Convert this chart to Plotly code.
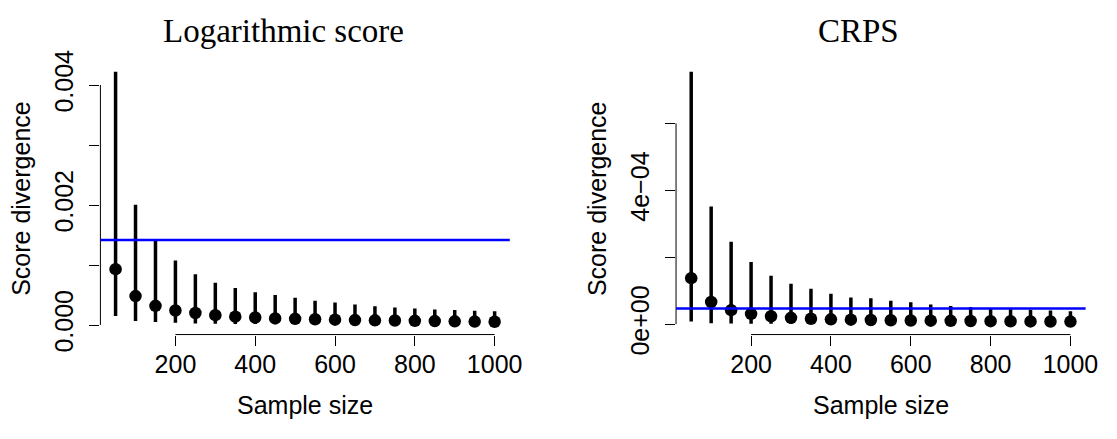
import plotly.graph_objects as go

# ---------------- data ----------------
sample_sizes = [50, 100, 150, 200, 250, 300, 350, 400, 450, 500,
                550, 600, 650, 700, 750, 800, 850, 900, 950, 1000]

log_mid = [0.000931, 0.000483, 0.000320, 0.000242, 0.000200, 0.000165, 0.000139,
           0.000126, 0.000110, 0.000103, 0.000096, 0.000090, 0.000082, 0.000078,
           0.000075, 0.000070, 0.000066, 0.000062, 0.000058, 0.000055]
log_hi = [0.004221, 0.002003, 0.001416, 0.001076, 0.000845, 0.000706, 0.000618,
          0.000545, 0.000499, 0.000453, 0.000406, 0.000375, 0.000344, 0.000313,
          0.000291, 0.000276, 0.000260, 0.000251, 0.000240, 0.000228]
log_lo = [0.000150, 0.000066, 0.000051, 0.000036, 0.000025, 0.000021, 0.000019,
          0.000017, 0.000016, 0.000015, 0.000014, 0.000014, 0.000013, 0.000013,
          0.000012, 0.000012, 0.000012, 0.000011, 0.000011, 0.000011]
log_ref = 0.001416

crps_mid = [1.374e-4, 0.662e-4, 0.420e-4, 0.310e-4, 0.238e-4, 0.190e-4, 0.163e-4,
            0.144e-4, 0.136e-4, 0.125e-4, 0.118e-4, 0.110e-4, 0.105e-4, 0.100e-4,
            0.095e-4, 0.090e-4, 0.087e-4, 0.083e-4, 0.080e-4, 0.077e-4]
crps_hi = [7.54e-4, 3.52e-4, 2.46e-4, 1.86e-4, 1.446e-4, 1.208e-4, 1.058e-4,
           0.911e-4, 0.800e-4, 0.773e-4, 0.700e-4, 0.654e-4, 0.587e-4, 0.543e-4,
           0.515e-4, 0.480e-4, 0.450e-4, 0.430e-4, 0.410e-4, 0.390e-4]
crps_lo = [0.080e-4, 0.030e-4, 0.020e-4, 0.015e-4, 0.012e-4, 0.010e-4, 0.010e-4,
           0.009e-4, 0.009e-4, 0.008e-4, 0.008e-4, 0.008e-4, 0.007e-4, 0.007e-4,
           0.007e-4, 0.007e-4, 0.006e-4, 0.006e-4, 0.006e-4, 0.006e-4]
crps_ref = 0.468e-4

x_ticks = [200, 400, 600, 800, 1000]
log_yticks = [0, 0.001, 0.002, 0.003, 0.004]
log_ytext = ["0.000", "", "0.002", "", "0.004"]
crps_yticks = [0, 2e-4, 4e-4, 6e-4]
crps_ytext = ["0e+00", "", "4e\u221204", ""]

titles = ["Logarithmic score", "CRPS"]
x_title = "Sample size"
y_title = "Score divergence"

# ---------------- layout geometry ----------------
W, H = 1117, 439
SANS = "Liberation Sans, Arial, sans-serif"
SERIF = "Liberation Serif, Times New Roman, serif"
FS = 25

def px_x(p):
    return p / W

def px_y(p):
    return 1 - p / H

x_range = [12, 1038]
ydom = [px_y(349), px_y(54.5)]
xdom1 = [px_x(101.6), px_x(515.8)]
xdom2 = [px_x(684.0), px_x(1098.4)]
yr1 = [-0.000159, 0.0043926]
yr2 = [-0.31e-4, 7.848e-4]

fig = go.Figure()

def add_panel(xa, ya, mid, hi, lo):
    fig.add_trace(go.Scatter(
        x=sample_sizes, y=mid, mode="markers",
        marker=dict(color="black", size=12.5, line=dict(width=0)),
        error_y=dict(type="data", symmetric=False,
                     array=[h - m for h, m in zip(hi, mid)],
                     arrayminus=[m - l for m, l in zip(mid, lo)],
                     color="black", thickness=3.5, width=0),
        xaxis=xa, yaxis=ya, showlegend=False, hoverinfo="skip"))

add_panel("x", "y", log_mid, log_hi, log_lo)
add_panel("x2", "y2", crps_mid, crps_hi, crps_lo)

axis_common = dict(showgrid=False, zeroline=False, showline=False,
                   ticks="outside", ticklen=10, tickwidth=1, tickcolor="black",
                   tickfont=dict(family=SANS, size=FS, color="black"))

fig.update_layout(
    width=W, height=H,
    margin=dict(l=0, r=0, t=0, b=0),
    paper_bgcolor="white", plot_bgcolor="white",
    xaxis=dict(domain=xdom1, range=x_range, tickvals=x_ticks, anchor="y",
               ticklabelstandoff=-3, **axis_common),
    yaxis=dict(domain=ydom, range=yr1, tickvals=log_yticks, ticktext=log_ytext,
               tickangle=-90, anchor="x", ticklabelstandoff=6, **axis_common),
    xaxis2=dict(domain=xdom2, range=x_range, tickvals=x_ticks, anchor="y2",
                ticklabelstandoff=-3, **axis_common),
    yaxis2=dict(domain=ydom, range=yr2, tickvals=crps_yticks, ticktext=crps_ytext,
                tickangle=-90, anchor="x2", ticklabelstandoff=6, **axis_common),
)

# axis lines (R style: only between first and last tick)
for xr, yr_, yt in [("x", "y", log_yticks), ("x2", "y2", crps_yticks)]:
    fig.add_shape(type="line", xref=xr, yref=yr_ + " domain",
                  x0=x_ticks[0], x1=x_ticks[-1], y0=0, y1=0,
                  line=dict(color="black", width=1))
    fig.add_shape(type="line", xref=xr + " domain", yref=yr_,
                  x0=0, x1=0, y0=yt[0], y1=yt[-1],
                  line=dict(color="black", width=1))

# reference lines
for xr, yr_, ref in [("x", "y", log_ref), ("x2", "y2", crps_ref)]:
    fig.add_shape(type="line", xref=xr + " domain", yref=yr_,
                  x0=0, x1=1, y0=ref, y1=ref,
                  line=dict(color="#0000ff", width=2.5))

# titles
for cx, t in [(287, titles[0]), (869, titles[1])]:
    fig.add_annotation(text=t, x=px_x(cx), y=px_y(22), xref="paper", yref="paper",
                       xanchor="center", yanchor="middle", showarrow=False,
                       font=dict(family=SERIF, size=33, color="black"))

# x titles
for cx in [308.7, 891.2]:
    fig.add_annotation(text=x_title, x=px_x(cx), y=px_y(425), xref="paper", yref="paper",
                       xanchor="center", yanchor="middle", showarrow=False,
                       font=dict(family=SANS, size=FS, color="black"))

# y titles
for cx in [21, 604]:
    fig.add_annotation(text=y_title, x=px_x(cx), y=px_y(201.8), xref="paper", yref="paper",
                       xanchor="center", yanchor="middle", showarrow=False, textangle=-90,
                       font=dict(family=SANS, size=FS, color="black"))

fig.write_html("out.html",
               config={"displayModeBar": False, "staticPlot": True},
               post_script="document.body.style.margin='0px';"
                           "document.body.style.overflow='hidden';")
